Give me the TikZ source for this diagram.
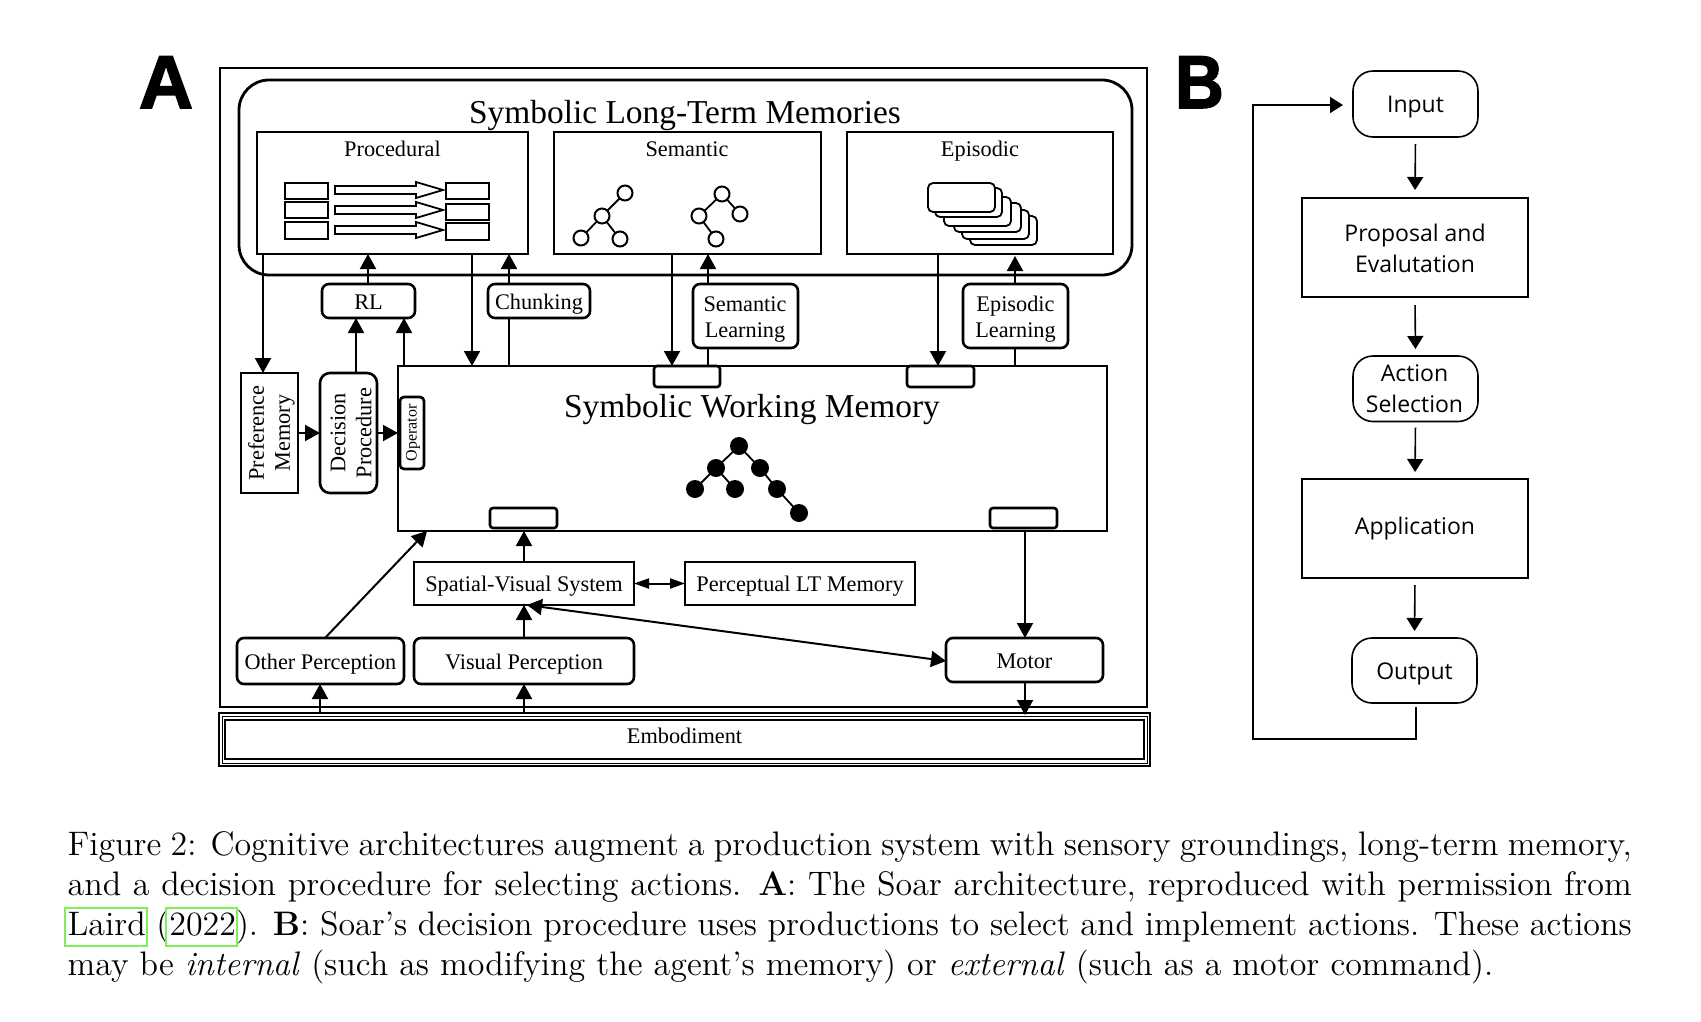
\documentclass[tikz,border=0pt]{standalone}
\usepackage{fontspec}
\usetikzlibrary{arrows.meta}
\newfontfamily\tfont{Liberation Serif}
\newfontfamily\bfont{Open Sans}
\newfontfamily\hfont[FakeBold=2]{Liberation Sans Bold}
\tikzset{
  nbase/.style={draw=black,inner sep=0pt,outer sep=0pt,line width=2.2pt,align=center,font=\tfont\fontsize{22.3}{26}\selectfont},
  sbox/.style={nbase},
  rbox/.style={nbase,rounded corners=7pt,line width=2.6pt},
  tabbox/.style={nbase,rounded corners=3pt,line width=2.6pt},
  oneline/.style={text height=18pt,text depth=2pt},
  bigtxt/.style={inner sep=0pt,anchor=base,font=\tfont\fontsize{33.4}{36}\selectfont},
  smalltxt/.style={inner sep=0pt,align=center,font=\tfont\fontsize{22.3}{26}\selectfont},
  basetxt/.style={smalltxt,anchor=base},
  ar/.style={line width=2pt,-{Triangle[length=15pt,width=16pt]}},
  pl/.style={line width=2pt},
  dar/.style={line width=2pt,{Triangle[length=15pt,width=16pt]}-{Triangle[length=15pt,width=16pt]}},
  sdar/.style={line width=2pt,{Triangle[length=15pt,width=10pt]}-{Triangle[length=15pt,width=10pt]}},
  mini/.style={line width=1.8pt},
  circ/.style={circle,draw=black,line width=2pt,minimum size=15pt,inner sep=0pt,fill=white},
  dot/.style={circle,fill=black,minimum size=18pt,inner sep=0pt},
  link/.style={line width=1.8pt},
  bsq/.style={draw=black,line width=1.6pt,inner sep=0pt,outer sep=0pt,align=center,font=\bfont\fontsize{23}{31}\selectfont},
  brd/.style={bsq,rounded corners=20pt},
  btxt/.style={inner sep=0pt,align=center,font=\bfont\fontsize{23}{31}\selectfont},
  bone/.style={text height=18.5pt,text depth=1.5pt},
  bar/.style={line width=1.6pt,-{Triangle[length=13pt,width=16pt]}},
  head/.style={inner sep=0pt,anchor=base,font=\hfont\fontsize{75}{75}\selectfont},
  cite/.style={draw={rgb,255:red,125;green,240;blue,85},line width=1.4pt}
}
\newcommand{\bx}[7]{\node[#2,minimum width={(#5-#3)*1pt},minimum height={(#6-#4)*1pt}] (#1) at ({(#3+#5)/2},{(#4+#6)/2}) {#7};}
\newcommand{\openarrow}[1]{\draw[mini,fill=white] (335,#1-4) -- (416,#1-4) -- (416,#1-8) -- (443,#1) -- (416,#1+8) -- (416,#1+4) -- (335,#1+4) -- cycle;}
\begin{document}
\begin{tikzpicture}[x=1pt,y=-1pt]
\useasboundingbox (0,0) rectangle (1701,1021);
% headings
\node[head] (lA) at (166,108) {A};
\node[head,xscale=0.9] (lB) at (1199.5,108) {B};
% frame of A
\bx{frameA}{sbox}{220}{68}{1147}{707}{}
\bx{ltm}{nbase,rounded corners=30pt,line width=2.8pt}{239}{80}{1132}{275}{}
\node[bigtxt] (ltmt) at (685,123.5) {Symbolic Long-Term Memories};
\bx{proc}{sbox}{257}{132}{528}{254}{}
\bx{sem}{sbox,line width=2.6pt}{554}{132}{821}{254}{}
\bx{epi}{sbox,line width=2.6pt}{847}{132}{1113}{254}{}
\node[basetxt] (proct) at (392.5,156) {Procedural};
\node[basetxt] (semt) at (687,156) {Semantic};
\node[basetxt] (epit) at (980,156) {Episodic};
% procedural icon
\draw[mini] (285,183) rectangle (328,199) (285,202) rectangle (328,218) (285,222) rectangle (328,239);
\draw[mini] (446,183) rectangle (489,199) (446,204) rectangle (489,220) (446,223) rectangle (489,240);
\openarrow{190}\openarrow{210}\openarrow{230}
% semantic icon
\draw[link] (625,193) -- (602,216) -- (581,238) (602,216) -- (620,239);
\draw[link] (699,216) -- (722,194) -- (740,214) (699,216) -- (716,239);
\node[circ] (s1) at (625,193) {};
\node[circ] (s2) at (602,216) {};
\node[circ] (s3) at (581,238) {};
\node[circ] (s4) at (620,239) {};
\node[circ] (s5) at (722,194) {};
\node[circ] (s6) at (699,216) {};
\node[circ] (s7) at (740,214) {};
\node[circ] (s8) at (716,239) {};
% episodic icon
\foreach \xa/\ya in {970/216,962/210,954/203,944/197,935/188,928/183}{
  \draw[mini,fill=white,rounded corners=5pt] (\xa,\ya) rectangle ++(67,29);
}
% learning
\bx{rl}{rbox,oneline}{322}{284}{415}{318}{RL}
\bx{chunk}{rbox,oneline}{488}{284}{590}{318}{Chunking}
\bx{seml}{rbox}{693}{284}{798}{348}{}
\bx{epil}{rbox}{963}{284}{1068}{348}{}
\node[smalltxt] (semlt) at (745,319.5) {Semantic\\Learning};
\node[smalltxt] (epilt) at (1015.5,319.5) {Episodic\\Learning};
% working memory
\bx{swm}{sbox}{398}{366}{1107}{531}{}
\node[bigtxt] (swmt) at (752,417) {Symbolic Working Memory};
\bx{tabA}{tabbox}{654}{366}{720}{387}{}
\bx{tabB}{tabbox}{907}{366}{974}{387}{}
\bx{tabC}{tabbox}{490}{508}{557}{528}{}
\bx{tabD}{tabbox}{990}{508}{1057}{528}{}
\bx{oper}{tabbox,rounded corners=4pt}{400}{397}{424}{469}{}
\node[rotate=90,inner sep=0pt,font=\tfont\fontsize{16}{18}\selectfont] (opert) at (413,433) {Operator};
\bx{pref}{sbox,line width=2.6pt}{241}{373}{298}{493}{}
\node[rotate=90,smalltxt] (preft) at (271.5,433) {Preference\\Memory};
\bx{dec}{rbox,rounded corners=10pt}{320}{373}{377}{493}{}
\node[rotate=90,smalltxt] (dect) at (351,433) {Decision\\Procedure};
% tree
\draw[link] (695,489) -- (716,468) -- (739,446) -- (760,468) -- (777,489) -- (799,513) (716,468) -- (735,489);
\node[dot] (d1) at (739,446) {};
\node[dot] (d2) at (716,468) {};
\node[dot] (d3) at (760,468) {};
\node[dot] (d4) at (695,489) {};
\node[dot] (d5) at (735,489) {};
\node[dot] (d6) at (777,489) {};
\node[dot] (d7) at (799,513) {};
% lower boxes
\bx{svs}{sbox,line width=2.6pt,oneline}{414}{562}{634}{605}{Spatial-Visual System}
\bx{plt}{sbox,oneline}{685}{562}{915}{605}{Perceptual LT Memory}
\bx{other}{rbox,oneline}{237}{638}{404}{684}{Other Perception}
\bx{vis}{rbox,oneline}{414}{638}{634}{684}{Visual Perception}
\bx{motor}{rbox,oneline}{946}{638}{1103}{682}{Motor}
\bx{emb}{sbox,line width=2.6pt}{219}{713}{1150}{766}{}
\draw[line width=1pt] (222,716.5) rectangle (1147.5,763);
\draw[line width=2.6pt] (225,720) rectangle (1144,759);
\node[basetxt] (embt) at (684.5,743) {Embodiment};
% x positions of the connectors
\coordinate (x263) at (263,0);
\coordinate (x368) at (368,0);
\coordinate (x472) at (472,0);
\coordinate (x509) at (509,0);
\coordinate (x672) at (672,0);
\coordinate (x708) at (708,0);
\coordinate (x938) at (938,0);
\coordinate (x1015) at (1015,0);
\coordinate (x356) at (356,0);
\coordinate (x404) at (404,0);
\coordinate (x524) at (524,0);
\coordinate (x1025) at (1025,0);
\coordinate (x320) at (320,0);
\coordinate (x325) at (325,0);
\coordinate (x427) at (427,0);
\coordinate (x527) at (527,0);
\coordinate (x1416) at (1416,0);
\coordinate (y433) at (0,433);
\coordinate (y661) at (0,661);
% connectors
\draw[ar] (proc.south -| x263) -- (pref.north -| x263);
\draw[ar] (rl.north -| x368) -- (proc.south -| x368);
\draw[ar] (proc.south -| x472) -- (swm.north -| x472);
\draw[pl] (swm.north -| x509) -- (chunk.south -| x509);
\draw[ar] (chunk.north -| x509) -- (proc.south -| x509);
\draw[ar] (sem.south -| x672) -- (swm.north -| x672);
\draw[pl] (swm.north -| x708) -- (seml.south -| x708);
\draw[ar] (seml.north -| x708) -- (sem.south -| x708);
\draw[ar] (epi.south -| x938) -- (swm.north -| x938);
\draw[pl] (swm.north -| x1015) -- (epil.south -| x1015);
\draw[ar,shorten >=2pt] (epil.north -| x1015) -- (epi.south -| x1015);
\draw[ar] (dec.north -| x356) -- (rl.south -| x356);
\draw[ar] (swm.north -| x404) -- (rl.south -| x404);
\draw[ar] (pref.east |- y433) -- (dec.west |- y433);
\draw[ar] (dec.east |- y433) -- (swm.west |- y433);
\draw[ar] (other.north -| x325) -- (swm.south -| x427);
\draw[ar] (svs.north -| x524) -- (swm.south -| x524);
\draw[sdar] (svs.east) -- (plt.west);
\draw[ar] (vis.north -| x524) -- (svs.south -| x524);
\draw[dar] (svs.south -| x527) -- (motor.west |- y661);
\draw[ar] (swm.south -| x1025) -- (motor.north -| x1025);
\draw[ar,shorten >=-2pt] (motor.south -| x1025) -- (emb.north -| x1025);
\draw[ar] (emb.north -| x320) -- (other.south -| x320);
\draw[ar] (emb.north -| x524) -- (vis.south -| x524);
% panel B
\bx{inp}{brd,bone}{1353}{71}{1478}{137}{Input}
\bx{prop}{bsq}{1302}{198}{1528}{297}{}
\node[btxt] (propt) at (1415,248) {Proposal and\\Evalutation};
\bx{act}{brd}{1353}{356}{1478}{421.5}{}
\node[btxt] (actt) at (1414.5,389) {Action\\Selection};
\bx{appl}{bsq}{1302}{479}{1528}{578}{Application}
\bx{outp}{brd,bone}{1352}{638}{1477}{703}{Output}
\coordinate (loopB) at (1253,739);
\coordinate (loopC) at (1253,105);
\draw[bar,shorten <=7pt,shorten >=8pt] (inp.south) -- (prop.north);
\draw[bar,shorten <=8pt,shorten >=7pt] (prop.south) -- (act.north);
\draw[bar,shorten <=6pt,shorten >=7pt] (act.south) -- (appl.north);
\draw[bar,shorten <=7pt,shorten >=7pt] (appl.south) -- (outp.north);
\draw[bar,shorten <=4pt,shorten >=10pt] (outp.south -| x1416) -- (x1416 |- loopB) -- (loopB) -- (loopC) -- (inp.west |- loopC);
% caption
\node[anchor=north west,inner sep=0pt,scale=3.09,text width=506.2pt,align=justify,font=\fontsize{11}{12.92}\selectfont] (cap) at (67,831) {Figure 2: Cognitive architectures augment a production system with sensory groundings, long-term memory,\linebreak and a decision procedure for selecting actions. \textbf{A}: The Soar architecture, reproduced with permission from\linebreak Laird (2022). \textbf{B}: Soar’s decision procedure uses productions to select and implement actions. These actions\linebreak may be \emph{internal} (such as modifying the agent’s memory) or \emph{external} (such as a motor command).};
\draw[cite] (65,908) rectangle (147,946);
\draw[cite] (166,908) rectangle (237,946);
\end{tikzpicture}
\end{document}
